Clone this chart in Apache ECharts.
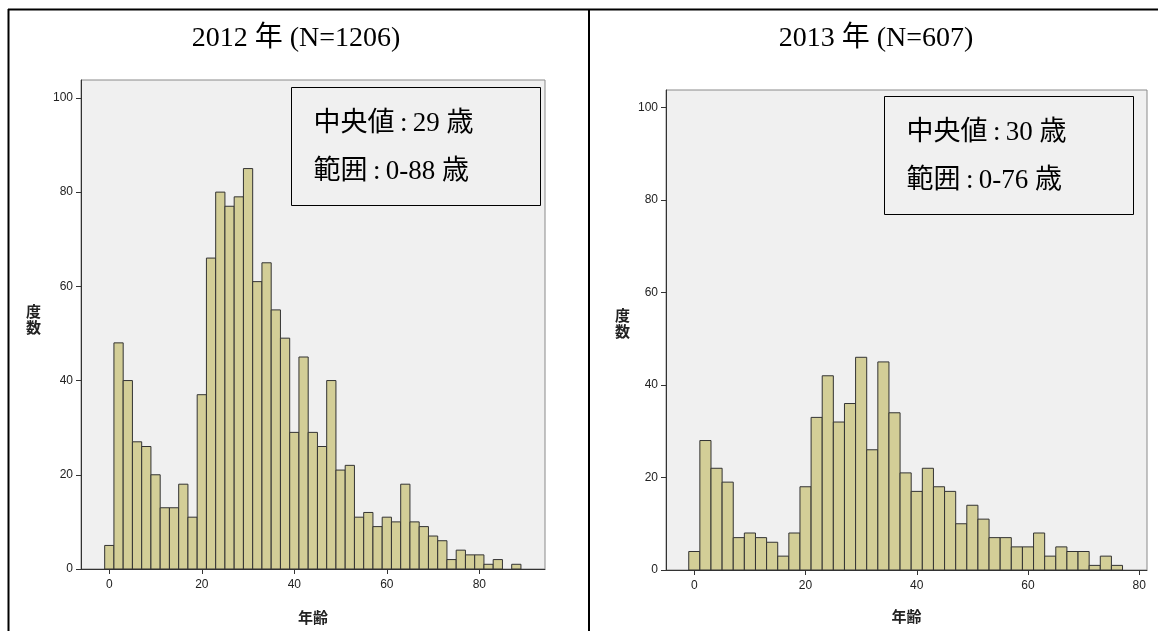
<!DOCTYPE html>
<html>
<head>
<meta charset="utf-8">
<script src="https://cdn.jsdelivr.net/npm/echarts@6/dist/echarts.min.js"></script>
<style>
  html, body { margin: 0; padding: 0; background: #fff; }
  #main { width: 1158px; height: 631px; }
</style>
</head>
<body>
<div id="main"></div>
<script>
// 年齢ヒストグラム (2 歳刻み), 2012 年 と 2013 年

var ages2012 = [0, 2, 4, 6, 8, 10, 12, 14, 16, 18, 20, 22, 24, 26, 28, 30, 32, 34, 36, 38,
  40, 42, 44, 46, 48, 50, 52, 54, 56, 58, 60, 62, 64, 66, 68, 70, 72, 74, 76, 78,
  80, 82, 84, 86, 88];
var counts2012 = [5, 48, 40, 27, 26, 20, 13, 13, 18, 11, 37, 66, 80, 77, 79, 85, 61, 65, 55, 49,
  29, 45, 29, 26, 40, 21, 22, 11, 12, 9, 11, 10, 18, 10, 9, 7, 6, 2, 4, 3,
  3, 1, 2, 0, 1];

var ages2013 = [0, 2, 4, 6, 8, 10, 12, 14, 16, 18, 20, 22, 24, 26, 28, 30, 32, 34, 36, 38,
  40, 42, 44, 46, 48, 50, 52, 54, 56, 58, 60, 62, 64, 66, 68, 70, 72, 74, 76];
var counts2013 = [4, 28, 22, 19, 7, 8, 7, 6, 3, 8, 18, 33, 42, 32, 36, 46, 26, 45, 34, 21,
  17, 22, 18, 17, 10, 14, 11, 7, 7, 5, 5, 8, 3, 5, 4, 4, 1, 3, 1];

var xTicks = [0, 20, 40, 60, 80];
var yTicks = [0, 20, 40, 60, 80, 100];

var titles = ['2012 年 (N=1206)', '2013 年 (N=607)'];
var medianTexts = ['中央値\u2009:\u200929 歳', '中央値\u2009:\u200930 歳'];
var rangeTexts = ['範囲\u2009:\u20090-88 歳', '範囲\u2009:\u20090-76 歳'];

var binWidth = 2;
var barFill = '#D3CE97';
var barStroke = '#333333';
var serif = "'Liberation Serif', 'Noto Sans CJK JP', serif";
var sans = "'Liberation Sans', Arial, 'Noto Sans CJK JP', sans-serif";

function toData(ages, counts) {
  return ages.map(function (a, i) { return [a, counts[i]]; });
}

function renderBin(params, api) {
  var x = api.value(0);
  var y = api.value(1);
  if (!y) return null;
  var p0 = api.coord([x - binWidth / 2, y]);
  var p1 = api.coord([x + binWidth / 2, 0]);
  return {
    type: 'rect',
    shape: { x: p0[0], y: p0[1], width: p1[0] - p0[0], height: p1[1] - p0[1] },
    style: { fill: barFill, stroke: barStroke, lineWidth: 1 }
  };
}

function xAxisOf(idx, min, max, gap) {
  return {
    type: 'value', gridIndex: idx, min: min, max: max,
    name: '年齢', nameLocation: 'middle', nameGap: gap,
    nameTextStyle: { fontFamily: sans, fontSize: 15, fontWeight: 'bold', color: '#222' },
    splitLine: { show: false },
    axisLine: { show: true, onZero: false, lineStyle: { color: '#333', width: 1 } },
    axisTick: { show: true, length: 5, customValues: xTicks, lineStyle: { color: '#333' } },
    axisLabel: { customValues: xTicks, margin: 10, fontFamily: sans, fontSize: 12, color: '#222' }
  };
}

function yAxisOf(idx) {
  return {
    type: 'value', gridIndex: idx, min: 0, max: 103.8,
    splitLine: { show: false },
    axisLine: { show: true, onZero: false, lineStyle: { color: '#333', width: 1 } },
    axisTick: { show: true, length: 5, customValues: yTicks, lineStyle: { color: '#333' } },
    axisLabel: { customValues: yTicks, margin: 8, fontFamily: sans, fontSize: 12, color: '#222' }
  };
}

function statBox(i, left, top) {
  return {
    type: 'group', left: left, top: top,
    children: [
      { type: 'rect', shape: { x: 0, y: 0, width: 249, height: 118 },
        style: { fill: '#F0F0F0', stroke: '#000', lineWidth: 1 } },
      { type: 'text', x: 22, y: 36,
        style: { text: medianTexts[i], font: '27px ' + serif,
                 fill: '#000', verticalAlign: 'middle' } },
      { type: 'text', x: 22, y: 84,
        style: { text: rangeTexts[i], font: '27px ' + serif,
                 fill: '#000', verticalAlign: 'middle' } }
    ]
  };
}

function axisNameY(x, y) {
  return {
    type: 'text', left: x, top: y,
    style: { text: '度\n数', font: 'bold 15px ' + sans, fill: '#222', lineHeight: 16 }
  };
}

var myChart = echarts.init(document.getElementById('main'));
myChart.setOption({
  animation: false,
  title: [
    { text: titles[0], left: 291, top: 20, textAlign: 'center',
      textStyle: { fontFamily: serif, fontSize: 28, fontWeight: 'normal', color: '#000' } },
    { text: titles[1], left: 871, top: 20, textAlign: 'center',
      textStyle: { fontFamily: serif, fontSize: 28, fontWeight: 'normal', color: '#000' } }
  ],
  grid: [
    { left: 81, top: 80, width: 464, height: 493, show: true,
      backgroundColor: '#F0F0F0', borderColor: '#8a8a8a', borderWidth: 1 },
    { left: 666, top: 90, width: 481, height: 480, show: true,
      backgroundColor: '#F0F0F0', borderColor: '#8a8a8a', borderWidth: 1 }
  ],
  xAxis: [xAxisOf(0, -6.12, 94.2, 42), xAxisOf(1, -5.09, 81.4, 40)],
  yAxis: [yAxisOf(0), yAxisOf(1)],
  series: [
    { type: 'custom', xAxisIndex: 0, yAxisIndex: 0, renderItem: renderBin,
      data: toData(ages2012, counts2012) },
    { type: 'custom', xAxisIndex: 1, yAxisIndex: 1, renderItem: renderBin,
      data: toData(ages2013, counts2013) }
  ],
  graphic: [
    // 表の罫線
    { type: 'line', shape: { x1: 8, y1: 9.5, x2: 1158, y2: 9.5 }, style: { stroke: '#000', lineWidth: 2 } },
    { type: 'line', shape: { x1: 8.5, y1: 9, x2: 8.5, y2: 631 }, style: { stroke: '#000', lineWidth: 2 } },
    { type: 'line', shape: { x1: 589, y1: 9, x2: 589, y2: 631 }, style: { stroke: '#000', lineWidth: 2 } },
    statBox(0, 291, 87),
    statBox(1, 884, 96),
    axisNameY(26, 305),
    axisNameY(615, 309)
  ]
});
</script>
</body>
</html>
